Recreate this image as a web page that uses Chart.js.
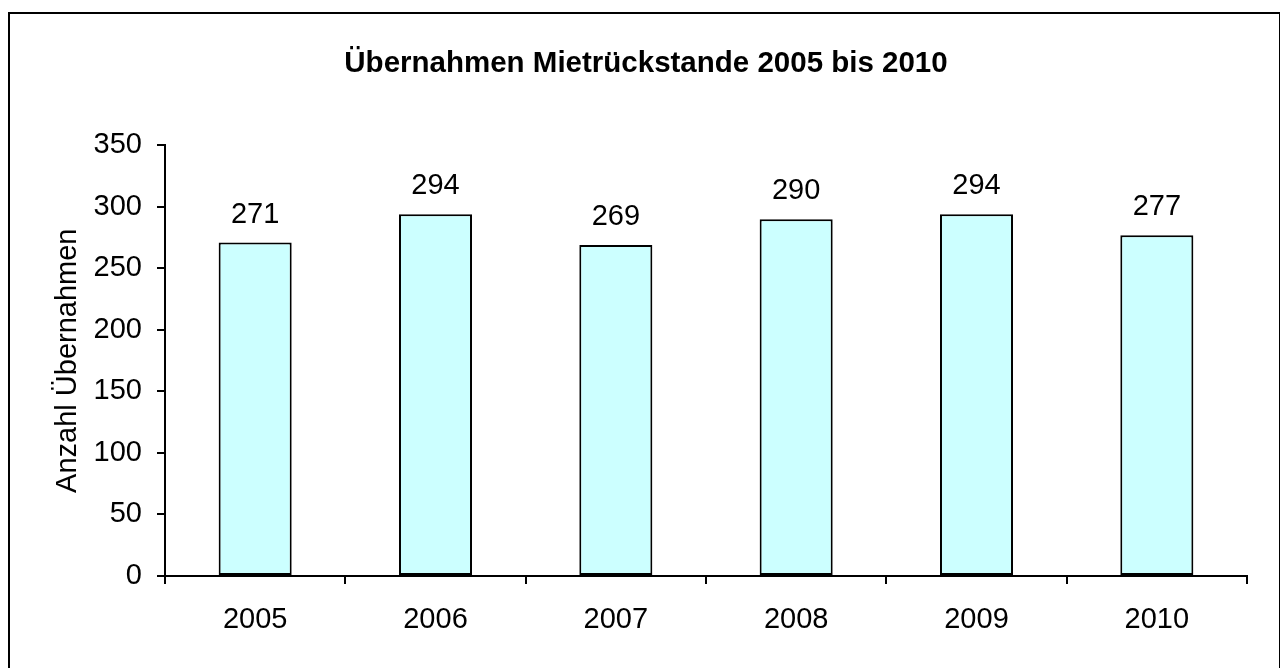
<!DOCTYPE html>
<html>
<head>
<meta charset="utf-8">
<title>Übernahmen Mietrückstande 2005 bis 2010</title>
<script src="https://cdn.jsdelivr.net/npm/chart.js@4"></script>
<style>
    html, body { margin: 0; padding: 0; background: #fff; }
    #wrap { width: 1280px; height: 668px; position: relative; }
</style>
</head>
<body>
<div id="wrap"><canvas id="chart"></canvas></div>
<script>
const years = ['2005', '2006', '2007', '2008', '2009', '2010'];
const uebernahmen = [271, 294, 269, 290, 294, 277];
const yTicks = [0, 50, 100, 150, 200, 250, 300, 350];

document.addEventListener('DOMContentLoaded', function () {
    Chart.defaults.font.family = '"Liberation Sans", Arial, sans-serif';
    Chart.defaults.color = '#000';

    // frame around the chart (runs off the right and bottom edges like the original crop)
    const framePlugin = {
        id: 'frame',
        beforeDraw(chart) {
            const ctx = chart.ctx;
            ctx.save();
            ctx.fillStyle = '#fff';
            ctx.fillRect(0, 0, chart.width, chart.height);
            ctx.strokeStyle = '#000';
            ctx.lineWidth = 2;
            ctx.strokeRect(9, 13, 1271, 700);
            ctx.restore();
        }
    };

    // value labels above the bars
    const valueLabels = {
        id: 'valueLabels',
        afterDatasetsDraw(chart) {
            const ctx = chart.ctx;
            const meta = chart.getDatasetMeta(0);
            ctx.save();
            ctx.font = '29px "Liberation Sans", Arial, sans-serif';
            ctx.fillStyle = '#000';
            ctx.textAlign = 'center';
            ctx.textBaseline = 'alphabetic';
            meta.data.forEach(function (bar, i) {
                ctx.fillText(String(uebernahmen[i]), bar.x, bar.y - 20);
            });
            ctx.restore();
        }
    };

    const ctx = document.getElementById('chart').getContext('2d');
    new Chart(ctx, {
        type: 'bar',
        data: {
            labels: years,
            datasets: [{
                data: uebernahmen,
                backgroundColor: '#CCFFFF',
                borderColor: '#000',
                borderWidth: 2,
                borderSkipped: false,
                barPercentage: 0.405,
                categoryPercentage: 1
            }]
        },
        options: {
            responsive: true,
            maintainAspectRatio: false,
            animation: false,
            layout: { padding: { left: 45, right: 33, top: 0, bottom: 0 } },
            plugins: {
                legend: { display: false },
                tooltip: { enabled: false },
                title: {
                    display: true,
                    text: 'Übernahmen Mietrückstande 2005 bis 2010',
                    color: '#000',
                    font: { size: 29.5, weight: 'bold' },
                    padding: { top: 46, bottom: 64 }
                }
            },
            scales: {
                x: {
                    afterFit(scale) { scale.height = 92; },
                    border: { color: '#000', width: 2 },
                    grid: { offset: true, drawOnChartArea: false, drawTicks: true, tickLength: 8, color: '#000', lineWidth: 2 },
                    ticks: { color: '#000', font: { size: 29 }, padding: 19 }
                },
                y: {
                    min: 0,
                    max: 350,
                    afterFit(scale) { scale.width = 120; },
                    afterBuildTicks(scale) { scale.ticks = yTicks.map(v => ({ value: v })); },
                    border: { color: '#000', width: 2 },
                    grid: { drawOnChartArea: false, drawTicks: true, tickLength: 8, color: '#000', lineWidth: 2 },
                    ticks: { color: '#000', font: { size: 29 }, padding: 15 },
                    title: {
                        display: true,
                        text: 'Anzahl Übernahmen',
                        color: '#000',
                        font: { size: 29 },
                        padding: { top: 6, bottom: 0 }
                    }
                }
            }
        },
        plugins: [framePlugin, valueLabels]
    });
});
</script>
</body>
</html>
